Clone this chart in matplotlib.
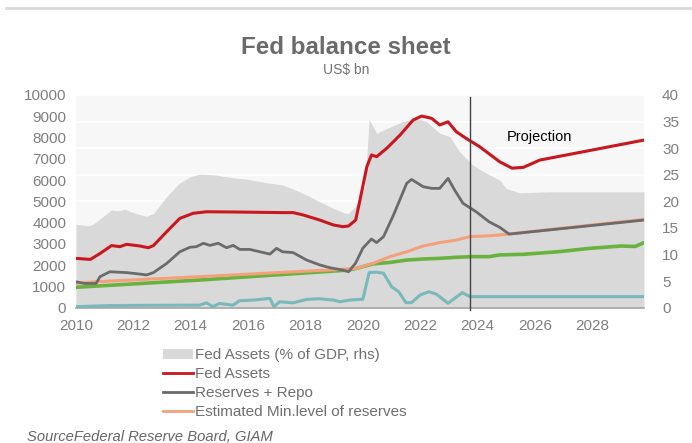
import matplotlib
matplotlib.use("Agg")
import matplotlib.pyplot as plt
from matplotlib.patches import Patch
from matplotlib.lines import Line2D

plt.rcParams['font.family'] = ['Liberation Sans', 'DejaVu Sans']

# ---- data ----
gdp_t = [2010.0, 2010.43, 2010.6, 2011.24, 2011.45, 2011.7, 2012.1, 2012.46, 2012.7, 2013.16, 2013.6,
         2013.97, 2014.3, 2014.8, 2015.5, 2015.95, 2016.64, 2017.2, 2017.57, 2018.04, 2018.5, 2018.97,
         2019.3, 2019.49, 2019.78, 2020.07, 2020.22, 2020.48, 2020.83, 2021.4, 2021.87, 2022.22,
         2022.68, 2023.03, 2023.38, 2023.84, 2024.3, 2024.77, 2025.0, 2025.47, 2026.5, 2029.8]
gdp_pct = [15.7, 15.4, 15.7, 18.4, 18.2, 18.5, 17.7, 17.2, 17.7, 20.9, 23.4,
           24.6, 25.1, 25.0, 24.4, 24.2, 23.5, 23.1, 22.3, 21.2, 19.9, 18.7,
           17.9, 17.7, 19.3, 22.8, 35.4, 32.8, 33.7, 35.0, 35.6, 35.0,
           32.8, 32.2, 29.3, 26.8, 25.3, 24.0, 22.4, 21.6, 21.8, 21.8]

assets_t = [2010.0, 2010.5, 2010.84, 2011.24, 2011.53, 2011.77, 2012.23, 2012.52, 2012.7, 2013.16, 2013.62,
            2014.09, 2014.55, 2015.48, 2016.64, 2017.2, 2017.57, 2017.92, 2018.5, 2018.97, 2019.3,
            2019.5, 2019.75, 2019.9, 2020.14, 2020.3, 2020.48, 2020.83, 2021.3, 2021.75, 2022.05,
            2022.4, 2022.68, 2022.97, 2023.26, 2023.6, 2024.07, 2024.77, 2025.2, 2025.6, 2026.17, 2029.8]
assets = [2320, 2270, 2550, 2920, 2870, 2980, 2900, 2820, 2920, 3570, 4200,
          4440, 4510, 4500, 4480, 4470, 4470, 4360, 4120, 3890, 3810,
          3840, 4120, 5060, 6630, 7180, 7100, 7490, 8120, 8820, 9010,
          8900, 8590, 8740, 8270, 7960, 7570, 6860, 6560, 6600, 6940, 7880]

res_t = [2010.0, 2010.3, 2010.7, 2010.84, 2011.18, 2011.77, 2012.23, 2012.46, 2012.7, 2013.16, 2013.62,
         2013.97, 2014.2, 2014.44, 2014.67, 2014.96, 2015.25, 2015.48, 2015.71, 2016.06, 2016.41,
         2016.76, 2016.99, 2017.2, 2017.57, 2018.04, 2018.5, 2018.85, 2019.3, 2019.5, 2019.75,
         2020.0, 2020.3, 2020.48, 2020.72, 2021.07, 2021.53, 2021.7, 2022.1, 2022.4, 2022.68,
         2022.97, 2023.2, 2023.49, 2023.95, 2024.4, 2024.77, 2025.1, 2029.8]
reserves = [1220, 1140, 1140, 1460, 1690, 1650, 1580, 1540, 1650, 2080, 2630,
            2840, 2870, 3030, 2930, 3030, 2820, 2930, 2740, 2740, 2630,
            2520, 2790, 2630, 2590, 2240, 2010, 1880, 1770, 1690, 2100,
            2800, 3230, 3060, 3340, 4360, 5850, 6030, 5690, 5610, 5610,
            6080, 5530, 4910, 4510, 4040, 3780, 3460, 4120]

minres_t = [2010.0, 2010.7, 2014.3, 2019.2, 2019.78, 2020.36, 2020.95, 2021.53, 2022.1, 2022.68,
            2023.26, 2023.73, 2024.4, 2024.77, 2029.8]
minres = [1140, 1220, 1460, 1800, 1850, 2090, 2400, 2630, 2900, 3060,
          3180, 3340, 3380, 3420, 4150]

green_t = [2010.0, 2014.3, 2019.5, 2019.78, 2020.36, 2020.95, 2021.53, 2022.1, 2022.68, 2023.26,
           2023.84, 2024.4, 2024.77, 2025.6, 2026.8, 2027.9, 2029.0, 2029.5, 2029.8]
green = [960, 1300, 1770, 1850, 2060, 2130, 2240, 2290, 2320, 2370,
         2400, 2400, 2480, 2510, 2630, 2790, 2900, 2880, 3060]

teal_t = [2010.0, 2011.2, 2012.2, 2014.3, 2014.55, 2014.77, 2015.0, 2015.48, 2015.7, 2016.2, 2016.76,
          2016.9, 2017.1, 2017.57, 2018.04, 2018.5, 2018.97, 2019.2, 2019.55, 2020.0, 2020.22,
          2020.48, 2020.72, 2021.0, 2021.25, 2021.5, 2021.7, 2022.0, 2022.3, 2022.56, 2022.97,
          2023.2, 2023.47, 2023.73, 2029.8]
teal = [50, 100, 110, 120, 230, 50, 200, 120, 330, 360, 440,
        50, 280, 230, 390, 420, 360, 280, 360, 400, 1650,
        1670, 1620, 990, 750, 240, 240, 600, 750, 640, 210,
        440, 710, 520, 520]

projection_start = 2023.75
x_ticks = [2010, 2012, 2014, 2016, 2018, 2020, 2022, 2024, 2026, 2028]
left_ticks = list(range(0, 10001, 1000))
right_ticks = list(range(0, 41, 5))

labels = ['Fed Assets (% of GDP, rhs)', 'Fed Assets', 'Reserves + Repo',
          'Estimated Min.level of reserves']

# ---- colours ----
c_area = '#d9d9d9'
c_red = '#c8171e'
c_gray = '#6b6b6b'
c_orange = '#f4a07c'
c_green = '#6ab23e'
c_teal = '#79b9b9'
c_txt = '#7f7f7f'

fig = plt.figure(figsize=(6.92, 4.43), dpi=100)
ax2 = fig.add_axes([0.1098, 0.3054, 0.8208, 0.4802])
ax = ax2.twinx()
ax.set_zorder(ax2.get_zorder() + 1)
ax.patch.set_visible(False)

# right axis: area + grid
ax2.set_facecolor('#f7f7f7')
ax2.fill_between(gdp_t, 0, gdp_pct, color=c_area, lw=0, zorder=2)
ax2.set_ylim(0, 40)
ax2.set_yticks(right_ticks)
ax2.yaxis.grid(True, color='white', lw=1.2, zorder=1)
ax2.set_axisbelow(True)

# left axis lines (swap sides: ax shows left, ax2 shows right)
ax.yaxis.tick_left()
ax2.yaxis.tick_right()
ax.set_ylim(0, 10000)
ax.set_yticks(left_ticks)
ax.plot(teal_t, teal, color=c_teal, lw=2.2, zorder=3)
ax.plot(green_t, green, color=c_green, lw=2.6, zorder=4)
ax.plot(minres_t, minres, color=c_orange, lw=2.2, zorder=5)
ax.plot(res_t, reserves, color=c_gray, lw=2.0, zorder=6)
ax.plot(assets_t, assets, color=c_red, lw=2.2, zorder=7)
ax.axvline(projection_start, ymin=-0.01, ymax=0.99, color='#444444', lw=1, zorder=8, clip_on=False)
ax.text(2025.0, 8040, 'Projection', fontsize=10.5, color='black', va='center', ha='left')

for a in (ax, ax2):
    a.set_xlim(2010, 2029.8)
    for s in a.spines.values():
        s.set_visible(False)
    a.tick_params(length=0, labelsize=11, colors=c_txt)
ax.spines['bottom'].set_visible(True)
ax.spines['bottom'].set_color('#a6a6a6')
ax.spines['bottom'].set_linewidth(1.2)
ax2.set_xticks(x_ticks)
ax2.tick_params(axis='x', pad=8)
ax2.tick_params(axis='y', pad=13)
ax.tick_params(axis='y', pad=7)
for lab in ax2.get_yticklabels():
    lab.set_ha('left')

# titles
fig.text(0.5, 0.892, 'Fed balance sheet', ha='center', va='center', fontsize=17.4,
         fontweight='bold', color='#6a6a6a')
fig.text(0.5, 0.842, 'US$ bn', ha='center', va='center', fontsize=10, color='#737373')

# separator line at top
fig.add_artist(Line2D([0.008, 1.0], [0.982, 0.982], color='#d9d9d9', lw=2))

handles = [Patch(facecolor=c_area, edgecolor='none'),
           Line2D([], [], color=c_red, lw=2),
           Line2D([], [], color=c_gray, lw=2),
           Line2D([], [], color=c_orange, lw=2)]
leg = fig.legend(handles, labels, loc='upper left', bbox_to_anchor=(0.235, 0.214),
                 frameon=False, fontsize=11, handlelength=2.0, handletextpad=0.1,
                 labelspacing=0.33, borderaxespad=0, borderpad=0, handleheight=0.6)
for t in leg.get_texts():
    t.set_color('#6f6f6f')

fig.text(0.039, 0.0135, 'SourceFederal Reserve Board, GIAM', ha='left', va='center',
         fontsize=10.6, style='italic', color='#666666')

fig.savefig('out.png', dpi=100)
